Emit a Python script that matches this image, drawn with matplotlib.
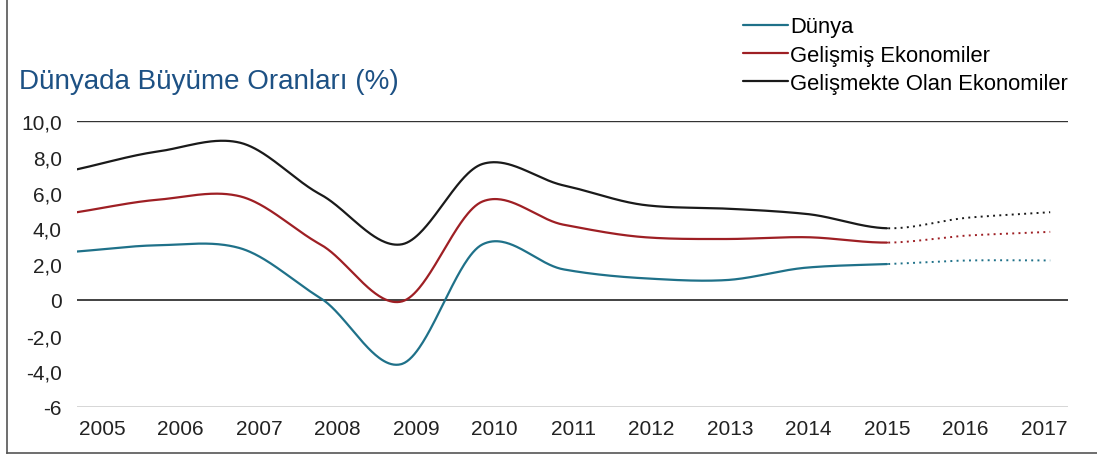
import numpy as np
import matplotlib
matplotlib.use("Agg")
import matplotlib.pyplot as plt
from matplotlib.lines import Line2D

plt.rcParams['font.family'] = ['Liberation Sans', 'DejaVu Sans']

years = [2005, 2006, 2007, 2008, 2009, 2010, 2011, 2012, 2013, 2014, 2015, 2016, 2017]
dunya = [2.7, 3.05, 2.9, 0.1, -3.6, 3.1, 1.7, 1.2, 1.1, 1.8, 2.0, 2.2, 2.2]
gelismis = [4.9, 5.6, 5.8, 3.1, -0.1, 5.5, 4.2, 3.5, 3.4, 3.5, 3.2, 3.6, 3.8]
gelismekte = [7.3, 8.3, 8.8, 5.9, 3.1, 7.6, 6.4, 5.3, 5.1, 4.8, 4.0, 4.6, 4.9]
last_actual = 2015

series = [
    ("Dünya", dunya, "#1f7189"),
    ("Gelişmiş Ekonomiler", gelismis, "#9e1f24"),
    ("Gelişmekte Olan Ekonomiler", gelismekte, "#1a1a1a"),
]
ytick_vals = [10, 8, 6, 4, 2, 0, -2, -4, -6]
ytick_labels = ["10,0", "8,0", "6,0", "4,0", "2,0", "0", "-2,0", "-4,0", "-6"]


# Catmull-Rom style cubic so the line is drawn smooth like the original
def smooth(x, y, xs, tension=0.85):
    x = np.asarray(x, float)
    y = np.asarray(y, float)
    h = np.diff(x)
    m = np.zeros_like(y)
    m[1:-1] = tension * (y[2:] - y[:-2]) / (x[2:] - x[:-2])
    m[0] = (y[1] - y[0]) / h[0]
    m[-1] = (y[-1] - y[-2]) / h[-1]
    idx = np.clip(np.searchsorted(x, xs) - 1, 0, len(x) - 2)
    t = (xs - x[idx]) / h[idx]
    h00 = 2 * t**3 - 3 * t**2 + 1
    h10 = t**3 - 2 * t**2 + t
    h01 = -2 * t**3 + 3 * t**2
    h11 = t**3 - t**2
    return h00 * y[idx] + h10 * h[idx] * m[idx] + h01 * y[idx + 1] + h11 * h[idx] * m[idx + 1]


fig = plt.figure(figsize=(10.97, 4.56), dpi=100)
ax = fig.add_axes([0.0702, 0.1053, 0.9034, 0.627])

xs = np.linspace(years[0], years[-1], 800)
for name, vals, col in series:
    ys = smooth(years, vals, xs)
    solid = xs <= last_actual
    ax.plot(xs[solid], ys[solid], color=col, lw=1.6, label=name, solid_capstyle='round')
    ax.plot(xs[~solid], ys[~solid], color=col, lw=1.4, ls=(0, (1, 2.2)))

ax.set_xlim(2005, 2017.22)
ax.set_ylim(-6, 10)
for yv in [10, 0, -6]:
    ax.axhline(yv, color="#333333", lw=1.3 if yv == 0 else 1.0, zorder=0)

for s in ax.spines.values():
    s.set_visible(False)
ax.set_yticks(ytick_vals)
ax.set_yticklabels(ytick_labels)
ax.set_xticks(np.linspace(2005.308, 2016.926, len(years)))
ax.set_xticklabels([str(y) for y in years])
ax.tick_params(axis='both', length=0, labelsize=15, colors="#222222")
ax.tick_params(axis='y', pad=11)
ax.tick_params(axis='x', pad=9)

fig.text(0.017, 0.805, "Dünyada Büyüme Oranları (%)", fontsize=20, color="#1d5184")

ax.legend(loc='upper left', bbox_to_anchor=(0.677, 0.962), bbox_transform=fig.transFigure,
          frameon=False, fontsize=15.8, handlelength=2.05, handletextpad=0.1,
          labelspacing=0.33, borderpad=0, borderaxespad=0)

# frame lines on left and bottom of the picture
fig.add_artist(Line2D([0.006, 0.006], [0.004, 1.0], transform=fig.transFigure, color="#555555", lw=1.2))
fig.add_artist(Line2D([0.006, 1.0], [0.004, 0.004], transform=fig.transFigure, color="#555555", lw=1.2))

fig.savefig("out.png", dpi=100)
